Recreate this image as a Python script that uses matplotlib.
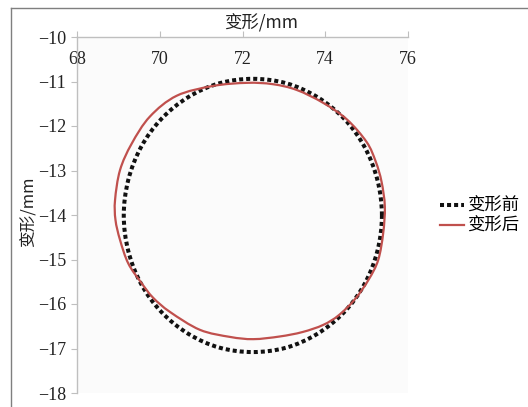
import matplotlib
matplotlib.use("Agg")
import matplotlib.pyplot as plt
from matplotlib.lines import Line2D
from matplotlib.path import Path
from matplotlib.patches import PathPatch

# Data (closed curves, last point = first point)
before_x = [75.37, 75.26, 74.95, 74.46, 73.81, 73.06, 72.25, 71.44, 70.69, 70.04, 69.55, 69.24,
            69.13, 69.24, 69.55, 70.04, 70.69, 71.44, 72.25, 73.06, 73.81, 74.46, 74.95, 75.26, 75.37]
before_y = [-14.01, -13.21, -12.47, -11.84, -11.35, -11.04, -10.94, -11.04, -11.35, -11.84, -12.47, -13.21,
            -14.01, -14.81, -15.55, -16.18, -16.67, -16.98, -17.08, -16.98, -16.67, -16.18, -15.55, -14.81, -14.01]

after_x = [72.11, 72.73, 73.31, 73.95, 74.52, 75.00, 75.22, 75.36, 75.44, 75.40, 75.28, 75.05, 74.72,
           74.33, 73.95, 73.45, 72.90, 72.26, 71.70, 70.97, 70.25, 69.84, 69.56, 69.24, 69.04, 68.93,
           68.92, 69.04, 69.32, 69.76, 70.41, 71.29, 72.11]
after_y = [-11.03, -11.06, -11.19, -11.48, -11.85, -12.36, -12.80, -13.25, -13.81, -14.41, -15.01, -15.45, -15.89,
           -16.25, -16.47, -16.63, -16.73, -16.79, -16.74, -16.58, -16.18, -15.86, -15.53, -15.09, -14.56, -14.11,
           -13.66, -12.99, -12.40, -11.79, -11.32, -11.10, -11.03]

x_ticks = [68, 70, 72, 74, 76]
y_ticks = [-10, -11, -12, -13, -14, -15, -16, -17, -18]
series_names = ["变形前", "变形后"]
axis_label = "变形/mm"

plt.rcParams["font.family"] = ["Liberation Serif", "DejaVu Serif"]
cjk = ["Noto Sans CJK SC", "DejaVu Sans"]


def smooth_path(xs, ys):
    """Smoothed closed line (like a spreadsheet 'smoothed line') through the data points."""
    pts = list(zip(xs[:-1], ys[:-1]))
    n = len(pts)
    verts = [pts[0]]
    codes = [Path.MOVETO]
    for i in range(n):
        p0 = pts[(i - 1) % n]
        p1 = pts[i]
        p2 = pts[(i + 1) % n]
        p3 = pts[(i + 2) % n]
        c1 = (p1[0] + (p2[0] - p0[0]) / 6, p1[1] + (p2[1] - p0[1]) / 6)
        c2 = (p2[0] - (p3[0] - p1[0]) / 6, p2[1] - (p3[1] - p1[1]) / 6)
        verts += [c1, c2, p2]
        codes += [Path.CURVE4] * 3
    return Path(verts, codes)


W, H = 528, 407
fig = plt.figure(figsize=(W / 100, H / 100), dpi=100)
fig.patch.set_facecolor("white")

ax = fig.add_axes([77 / W, 1 - 393 / H, (408 - 77) / W, (393 - 37) / H])
ax.set_facecolor("#fbfbfb")

dotted = (0, (1, 0.75))
ax.add_patch(PathPatch(smooth_path(before_x, before_y), facecolor="none", edgecolor="#111111",
                       lw=2.9, linestyle=dotted, capstyle="butt", zorder=3))
ax.add_patch(PathPatch(smooth_path(after_x, after_y), facecolor="none", edgecolor="#c0504d",
                       lw=1.6, zorder=4))

ax.set_xlim(68, 76)
ax.set_ylim(-18, -10)
ax.set_xticks(x_ticks)
ax.set_yticks(y_ticks)
ax.set_xticklabels([str(v) for v in x_ticks], fontsize=13)
ax.set_yticklabels(["\u2212" + str(-v) for v in y_ticks], fontsize=13)

for s in ["right", "bottom"]:
    ax.spines[s].set_visible(False)
for s in ["top", "left"]:
    ax.spines[s].set_color("#bfbfbf")
    ax.spines[s].set_linewidth(1.0)

ax.tick_params(axis="x", top=True, bottom=False, labeltop=True, labelbottom=False,
               direction="out", length=4, color="#bfbfbf", pad=-26, labelcolor="#222222")
ax.tick_params(axis="y", left=True, direction="out", length=4, color="#bfbfbf",
               pad=4, labelcolor="#222222")

fig.text(261 / W, 1 - 23 / H, axis_label, ha="center", va="center",
         fontfamily=cjk, fontsize=12.5, color="#222222")
fig.text(29 / W, 1 - 212 / H, axis_label, ha="center", va="center", rotation=90,
         fontfamily=cjk, fontsize=12, color="#222222")

handles = [Line2D([], [], color="#111111", lw=2.9, linestyle=dotted, dash_capstyle="butt"),
           Line2D([], [], color="#c0504d", lw=1.6)]
fig.legend(handles, series_names, loc="center left", bbox_to_anchor=(428 / W, 1 - 216 / H),
           frameon=False, prop={"family": cjk, "size": 12.5}, handlelength=1.4,
           handletextpad=0.15, labelspacing=0.12, borderpad=0.2)

# outer chart frame
fig.add_artist(Line2D([11 / W, 11 / W], [0, 1 - 8 / H], color="#7f7f7f", lw=1.0, transform=fig.transFigure))
fig.add_artist(Line2D([11 / W, 1], [1 - 8 / H, 1 - 8 / H], color="#7f7f7f", lw=1.0, transform=fig.transFigure))

fig.savefig("out.png", dpi=100, facecolor="white")
